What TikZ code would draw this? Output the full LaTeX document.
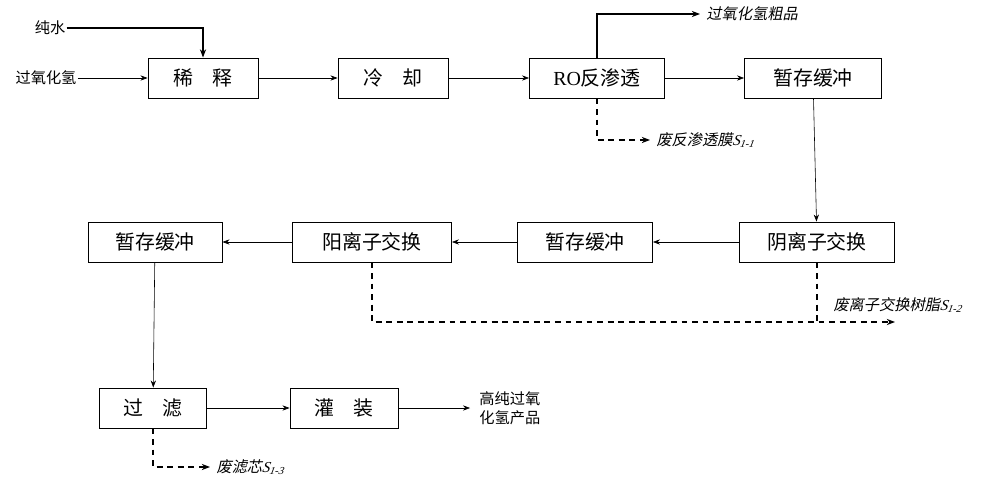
\documentclass[tikz,border=0pt]{standalone}
\usepackage{fontspec}
\setmainfont{Liberation Serif}
\newfontfamily\cjk{Noto Sans CJK SC}
\usetikzlibrary{arrows.meta}
\begin{document}
\begin{tikzpicture}[x=0.03cm,y=-0.03cm,
 box/.style={draw,thick,minimum width=#1*0.03cm,minimum height=1.2cm,font=\cjk\fontsize{17}{17}\selectfont,inner sep=0},
 flow/.style={-{Stealth[length=6pt]},line width=0.5pt},
 bold/.style={-{Stealth[length=7pt]},line width=1.4pt},
 wdash/.style={-{Stealth[length=7pt]},line width=1.2pt,dash pattern=on 5pt off 4pt},
 lbl/.style={font=\cjk\fontsize{13}{16}\selectfont,inner sep=1pt},
 ilbl/.style={font=\cjk\fontsize{13}{15}\selectfont\itshape,inner sep=2pt,xslant=0.2}]
\useasboundingbox (0,0) rectangle (1000,484);
\node[box=110] (xs) at (203,78) {稀\quad 释};
\node[box=110] (lq) at (393,78) {冷\quad 却};
\node[box=135] (ro) at (597,78) {{\rmfamily RO}反渗透};
\node[box=137] (zc1) at (813,78) {暂存缓冲};
\node[box=155] (yin) at (817,242) {阴离子交换};
\node[box=135] (zc2) at (585,242) {暂存缓冲};
\node[box=159] (yang) at (372,242) {阳离子交换};
\node[box=134] (zc3) at (155,242) {暂存缓冲};
\node[box=107] (gl) at (153,408) {过\quad 滤};
\node[box=108] (gz) at (344,408) {灌\quad 装};
\node[lbl] (cs) at (50,28) {纯水};
\node[lbl] (gy) at (46,78) {过氧化氢};
\node[ilbl,anchor=west] (cp) at (705,14) {过氧化氢粗品};
\node[ilbl,anchor=west] (fm) at (655,140) {废反渗透膜{\rmfamily\itshape S\textsubscript{1-1}}};
\node[ilbl,anchor=west] (fs) at (832,305) {废离子交换树脂{\rmfamily\itshape S\textsubscript{1-2}}};
\node[ilbl,anchor=west] (fx) at (215,467) {废滤芯{\rmfamily\itshape S\textsubscript{1-3}}};
\node[lbl,align=left,anchor=west] (cp2) at (478,408) {高纯过氧\\化氢产品};
\coordinate (cpe) at (700,14);
\coordinate (fme) at (650,140);
\coordinate (fse) at (895,322);
\coordinate (fxe) at (210,467);
\coordinate (cpe2) at (470,408);
\draw[bold] (cs.east) -| (xs.north);
\draw[flow] (gy) -- (xs);
\draw[flow] (xs) -- (lq);
\draw[flow] (lq) -- (ro);
\draw[flow] (ro) -- (zc1);
\draw[flow] (zc1) -- (yin);
\draw[flow] (yin) -- (zc2);
\draw[flow] (zc2) -- (yang);
\draw[flow] (yang) -- (zc3);
\draw[flow] (zc3) -- (gl);
\draw[flow] (gl) -- (gz);
\draw[flow] (gz) -- (cpe2);
\draw[bold] (ro.north) |- (cpe);
\draw[wdash] (ro.south) |- (fme);
\draw[wdash] (yang.south) |- (fse);
\draw[line width=1.2pt,dash pattern=on 5pt off 4pt] (yin.south) -- (817,322);
\draw[wdash] (gl.south) |- (fxe);
\end{tikzpicture}
\end{document}
